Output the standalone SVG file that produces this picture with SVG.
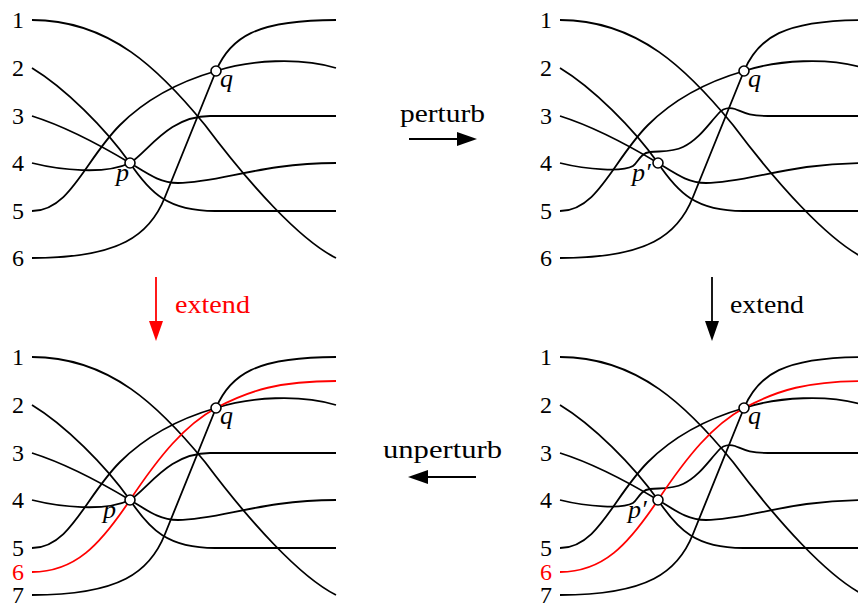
<svg xmlns="http://www.w3.org/2000/svg" xmlns:xlink="http://www.w3.org/1999/xlink" width="858" height="603" viewBox="0 0 858 603">
<style>
.ln{fill:none;stroke:#000;stroke-width:1.8}
.red{stroke:#f00}
.pt{fill:#fff;stroke:#000;stroke-width:1.6}
.num{font-family:"Liberation Serif",serif;font-size:24px;text-anchor:middle;fill:#000}
.it{font-family:"Liberation Serif",serif;font-style:italic;font-size:26px;fill:#000}
.word{font-family:"Liberation Serif",serif;font-size:26px;fill:#000}
.arr{stroke:#000;stroke-width:1.8;fill:none}
</style>
<defs>
<marker id="hb" viewBox="0 0 20 14" refX="16" refY="7" markerWidth="20" markerHeight="14" markerUnits="userSpaceOnUse" orient="auto"><path d="M0,0 L20,7 L0,14 Z" fill="#000"/></marker>
<marker id="hr" viewBox="0 0 20 14" refX="16" refY="7" markerWidth="20" markerHeight="14" markerUnits="userSpaceOnUse" orient="auto"><path d="M0,0 L20,7 L0,14 Z" fill="#f00"/></marker>
<path id="l1" class="ln" d="M32,20 C110,20 160,70 205,125 C250,185 300,240 336,258"/>
<path id="l2" class="ln" d="M32,68 C65,88 105,128 130,163 C150,193 168,211 215,211 L336,211"/>
<path id="l3" class="ln" d="M32,116 C70,128 105,148 130,163 C148,174 160,183 178,183 C220,183 260,163 336,163"/>
<path id="l4" class="ln" d="M32,163 C60,170 105,175 130,163 C148,152 168,116 210,116 L336,116"/>
<path id="l4p" class="ln" d="M32,163 C60,170 95,172 105,166 C110,163 112,153 122,152 C135,151 145,152 155,147 C170,140 180,125 190,114 C195,108 200,107 207,109 C215,112 220,116 240,116 L336,116"/>
<path id="l5" class="ln" d="M32,211 C70,211 85,160 120,125 C150,95 185,80 216,71 C250,60 300,57 336,68"/>
<path id="l6" class="ln" d="M32,258 C120,258 150,235 165,197 L216,71 C230,38 255,20 336,20"/>
<path id="lr" class="ln red" d="M32,235 C75,235 100,208 130,163 C160,118 185,88 216,71 C250,53 280,44 336,44"/>
</defs>

<g id="panel-top-left">
<use xlink:href="#l1"/><use xlink:href="#l2"/><use xlink:href="#l3"/><use xlink:href="#l4"/><use xlink:href="#l5"/><use xlink:href="#l6"/>
<g id="tl-labels">
<text class="num" x="18" y="28">1</text><text class="num" x="18" y="76">2</text><text class="num" x="18" y="124">3</text><text class="num" x="18" y="171">4</text><text class="num" x="18" y="219">5</text><text class="num" x="18" y="266">6</text>
</g>
<g id="tl-p"><circle class="pt" cx="130" cy="163" r="5"/><text class="it" x="116" y="181">p</text></g>
<g id="tl-q"><circle class="pt" cx="216" cy="71" r="5"/><text class="it" x="220" y="87">q</text></g>
</g>

<g id="panel-top-right" transform="translate(528,0)">
<use xlink:href="#l1"/><use xlink:href="#l2"/><use xlink:href="#l3"/><use xlink:href="#l4p"/><use xlink:href="#l5"/><use xlink:href="#l6"/>
<g id="tr-labels">
<text class="num" x="18" y="28">1</text><text class="num" x="18" y="76">2</text><text class="num" x="18" y="124">3</text><text class="num" x="18" y="171">4</text><text class="num" x="18" y="219">5</text><text class="num" x="18" y="266">6</text>
</g>
<g id="tr-p"><circle class="pt" cx="130" cy="163" r="5"/><text class="it" x="104" y="181">p′</text></g>
<g id="tr-q"><circle class="pt" cx="216" cy="71" r="5"/><text class="it" x="220" y="87">q</text></g>
</g>

<g id="panel-bottom-left" transform="translate(0,337)">
<use xlink:href="#l1"/><use xlink:href="#l2"/><use xlink:href="#l3"/><use xlink:href="#l4"/><use xlink:href="#l5"/><use xlink:href="#l6"/><use xlink:href="#lr"/>
<g id="bl-labels">
<text class="num" x="18" y="28">1</text><text class="num" x="18" y="76">2</text><text class="num" x="18" y="124">3</text><text class="num" x="18" y="171">4</text><text class="num" x="18" y="219">5</text><text class="num" x="18" y="243" style="fill:#f00">6</text><text class="num" x="18" y="266">7</text>
</g>
<g id="bl-p"><circle class="pt" cx="130" cy="163" r="5"/><text class="it" x="103" y="181">p</text></g>
<g id="bl-q"><circle class="pt" cx="216" cy="71" r="5"/><text class="it" x="220" y="87">q</text></g>
</g>

<g id="panel-bottom-right" transform="translate(528,337)">
<use xlink:href="#l1"/><use xlink:href="#l2"/><use xlink:href="#l3"/><use xlink:href="#l4p"/><use xlink:href="#l5"/><use xlink:href="#l6"/><use xlink:href="#lr"/>
<g id="br-labels">
<text class="num" x="18" y="28">1</text><text class="num" x="18" y="76">2</text><text class="num" x="18" y="124">3</text><text class="num" x="18" y="171">4</text><text class="num" x="18" y="219">5</text><text class="num" x="18" y="243" style="fill:#f00">6</text><text class="num" x="18" y="266">7</text>
</g>
<g id="br-p"><circle class="pt" cx="130" cy="163" r="5"/><text class="it" x="100" y="181">p′</text></g>
<g id="br-q"><circle class="pt" cx="216" cy="71" r="5"/><text class="it" x="220" y="87">q</text></g>
</g>

<g id="connectors">
<g id="c-perturb"><line class="arr" x1="409" y1="139" x2="473" y2="139" marker-end="url(#hb)"/><text class="word" x="400" y="122" textLength="85" lengthAdjust="spacingAndGlyphs">perturb</text></g>
<g id="c-unperturb"><line class="arr" x1="476" y1="477" x2="412" y2="477" marker-end="url(#hb)"/><text class="word" x="383" y="458" textLength="119" lengthAdjust="spacingAndGlyphs">unperturb</text></g>
<g id="c-extend-left"><line class="arr" x1="156" y1="277" x2="156" y2="337" style="stroke:#f00" marker-end="url(#hr)"/><text class="word" x="175" y="313" textLength="75" lengthAdjust="spacingAndGlyphs" style="fill:#f00">extend</text></g>
<g id="c-extend-right"><line class="arr" x1="712" y1="277" x2="712" y2="337" marker-end="url(#hb)"/><text class="word" x="730" y="313" textLength="74" lengthAdjust="spacingAndGlyphs">extend</text></g>
</g>
</svg>
